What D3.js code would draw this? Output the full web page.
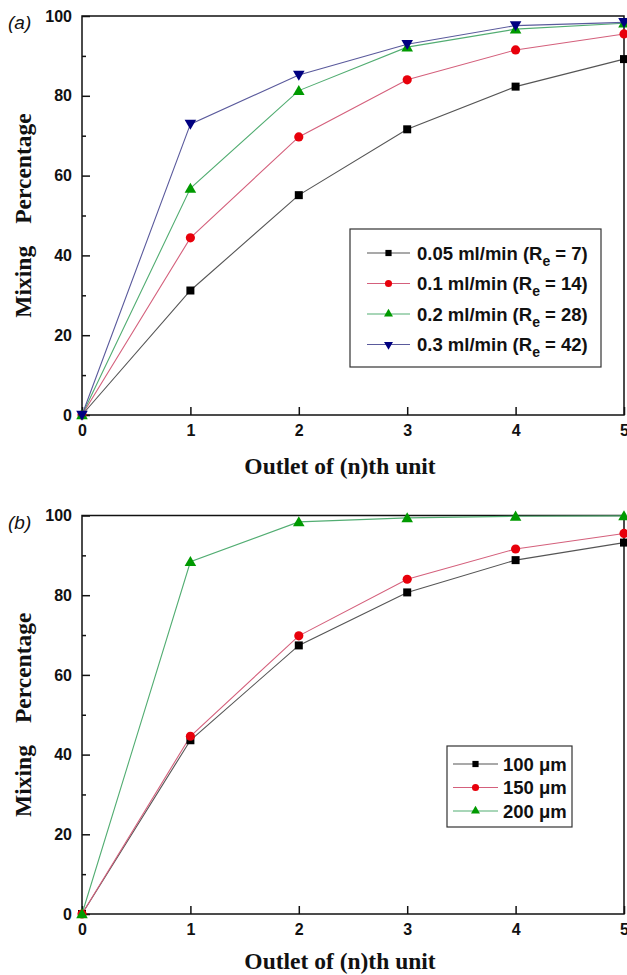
<!DOCTYPE html>
<html>
<head>
<meta charset="utf-8">
<style>
  body { margin: 0; background: #fff; }
  .tick text { font-family: "Liberation Sans", Arial, sans-serif; font-weight: bold; font-size: 16px; fill: #111; }
  .ttl { font-family: "Liberation Serif", "Times New Roman", serif; font-weight: bold; font-size: 23.5px; fill: #111; }
  .leg { font-family: "Liberation Sans", Arial, sans-serif; font-weight: bold; font-size: 18.5px; fill: #111; }
  .tag { font-family: "Liberation Sans", Arial, sans-serif; font-style: italic; font-size: 19px; fill: #111; }
</style>
</head>
<body>
<svg width="627" height="975"></svg>
<script src="https://cdn.jsdelivr.net/npm/d3@7/dist/d3.min.js"></script>
<script>

// outlet index (x)
var outlets = [0, 1, 2, 3, 4, 5];
var yTicks = [0, 20, 40, 60, 80, 100];

// panel (a): flow rate series
var flowLabels = ["0.05 ml/min", "0.1 ml/min", "0.2 ml/min", "0.3 ml/min"];
var flowRe = ["7", "14", "28", "42"];
var flow005 = [0, 31.2, 55.1, 71.6, 82.3, 89.2];
var flow01  = [0, 44.4, 69.7, 84.0, 91.5, 95.5];
var flow02  = [0, 56.8, 81.3, 92.2, 96.7, 98.2];
var flow03  = [0, 72.9, 85.2, 92.9, 97.6, 98.4];

// panel (b): channel width series
var widthLabels = ["100 \u03bcm", "150 \u03bcm", "200 \u03bcm"];
var width100 = [0, 43.6, 67.4, 80.7, 88.8, 93.2];
var width150 = [0, 44.6, 69.8, 84.0, 91.6, 95.5];
var width200 = [0, 88.4, 98.4, 99.4, 99.8, 99.9];

var styles = [
  {line: "#555", fill: "#000", sym: d3.symbolSquare, size: 64},
  {line: "#d4607c", fill: "#e8000b", sym: d3.symbolCircle, size: 66},
  {line: "#52ad72", fill: "#009a00", sym: d3.symbolTriangle, size: 58},
  {line: "#5a5a9c", fill: "#000080", sym: d3.symbolTriangle, size: 58, flip: true}
];

var svg = d3.select("svg");

function drawPanel(opt) {
  var left = 82, right = 624, top = opt.top, bottom = opt.bottom;
  var x = d3.scaleLinear().domain([0, 5]).range([left, right]);
  var y = d3.scaleLinear().domain([0, 100]).range([bottom, top]);
  var g = svg.append("g");

  // minor y ticks
  g.append("g")
      .attr("transform", "translate(" + left + ",0)")
      .call(d3.axisLeft(y).tickValues([10, 30, 50, 70, 90]).tickSize(-4).tickFormat(""))
      .call(function(a) { a.select(".domain").remove(); })
      .selectAll("line").attr("stroke", "#111").attr("stroke-width", 1.5);

  g.append("g")
      .attr("transform", "translate(" + left + ",0)")
      .call(d3.axisLeft(y).tickValues(yTicks).tickSize(-8).tickPadding(10).tickFormat(d3.format("d")))
      .call(function(a) { a.select(".domain").remove(); })
      .selectAll("line").attr("stroke", "#111").attr("stroke-width", 1.5);

  g.append("g")
      .attr("transform", "translate(0," + bottom + ")")
      .call(d3.axisBottom(x).tickValues(outlets).tickSize(-8).tickPadding(10).tickFormat(d3.format("d")))
      .call(function(a) { a.select(".domain").remove(); })
      .selectAll("line").attr("stroke", "#111").attr("stroke-width", 1.5);

  g.append("rect")
      .attr("x", left).attr("y", top)
      .attr("width", right - left).attr("height", bottom - top)
      .attr("fill", "none").attr("stroke", "#111").attr("stroke-width", 1.5);

  var line = d3.line()
      .x(function(d, i) { return x(outlets[i]); })
      .y(function(d) { return y(d); });

  opt.series.forEach(function(s, k) {
    var st = styles[k];
    g.append("path")
        .datum(s)
        .attr("fill", "none")
        .attr("stroke", st.line)
        .attr("stroke-width", 1.1)
        .attr("d", line);
  });
  opt.series.forEach(function(s, k) {
    var st = styles[k];
    g.selectAll(null)
        .data(s)
      .enter().append("path")
        .attr("d", d3.symbol().type(st.sym).size(st.size))
        .attr("fill", st.fill)
        .attr("transform", function(d, i) {
          return "translate(" + x(outlets[i]) + "," + (y(d) + (st.flip ? -1 : (st.sym === d3.symbolTriangle ? 1 : 0))) + ")" + (st.flip ? " rotate(180)" : "");
        });
  });

  // panel tag
  g.append("text").attr("class", "tag")
      .attr("x", 8).attr("y", top + 13)
      .text(opt.tag);

  // axis titles
  var yt = g.append("text").attr("class", "ttl")
      .attr("transform", "translate(31," + ((top + bottom) / 2) + ") rotate(-90)")
      .attr("text-anchor", "middle");
  yt.append("tspan").text("Mixing");
  yt.append("tspan").attr("dx", 22).text("Percentage");

  g.append("text").attr("class", "ttl")
      .attr("x", 340).attr("y", bottom + opt.titleGap)
      .attr("text-anchor", "middle")
      .text("Outlet of (n)th unit");

  // legend
  var L = opt.legend;
  g.append("rect")
      .attr("x", L.x).attr("y", L.y).attr("width", L.w).attr("height", L.h)
      .attr("fill", "#fff").attr("stroke", "#333").attr("stroke-width", 1.2);
  L.labels.forEach(function(lab, k) {
    var st = styles[k];
    var cy = L.y + L.first + k * L.step;
    g.append("line")
        .attr("x1", L.x + L.l1).attr("x2", L.x + L.l2)
        .attr("y1", cy).attr("y2", cy)
        .attr("stroke", st.line).attr("stroke-width", 1.1);
    g.append("path")
        .attr("d", d3.symbol().type(st.sym).size(st.size * 0.6))
        .attr("fill", st.fill)
        .attr("transform", "translate(" + (L.x + (L.l1 + L.l2) / 2) + "," + cy + ")" + (st.flip ? " rotate(180)" : ""));
    var t = g.append("text").attr("class", "leg")
        .attr("x", L.x + L.tx).attr("y", cy + 6.5);
    if (L.re) {
      t.append("tspan").text(lab + " (R");
      t.append("tspan").attr("dy", 6).attr("font-size", "14px").text("e");
      t.append("tspan").attr("dy", -6).text(" = " + L.re[k] + ")");
    } else {
      t.text(lab);
    }
  });
}

drawPanel({
  top: 16, bottom: 415, tag: "(a)", titleGap: 59,
  series: [flow005, flow01, flow02, flow03],
  legend: {x: 350, y: 229, w: 251, h: 138, first: 24, step: 30.5, l1: 17, l2: 60, tx: 67, labels: flowLabels, re: flowRe}
});

drawPanel({
  top: 515.5, bottom: 914, tag: "(b)", titleGap: 55,
  series: [width100, width150, width200],
  legend: {x: 447, y: 746, w: 125, h: 81, first: 18, step: 23.5, l1: 6, l2: 51, tx: 56, labels: widthLabels}
});

</script>
</body>
</html>
